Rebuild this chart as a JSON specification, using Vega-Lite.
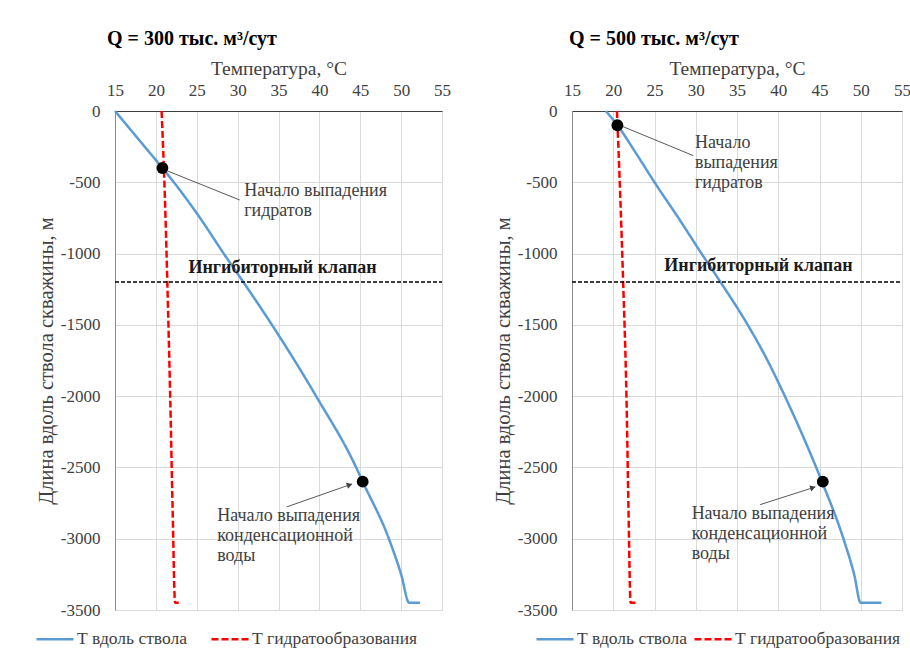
{
  "$schema": "https://vega.github.io/schema/vega-lite/v6.json",
  "padding": {"left": 35, "top": 29, "right": 0, "bottom": 0},
  "background": "white",
  "bounds": "flush",
  "spacing": 130,
  "config": {
    "font": "Liberation Serif",
    "view": {"stroke": null},
    "axis": {
      "gridColor": "#d9d9d9",
      "gridWidth": 1,
      "ticks": false,
      "tickSize": 0,
      "labelFont": "Liberation Serif",
      "labelFontSize": 17,
      "labelColor": "#404040",
      "titleFont": "Liberation Serif",
      "titleFontSize": 19.5,
      "titleFontWeight": "normal",
      "titleColor": "#404040"
    },
    "axisY": {"titleFontSize": 20.5},
    "title": {"font": "Liberation Serif", "fontSize": 20, "fontWeight": "bold", "color": "#000000", "anchor": "start", "frame": "group"}
  },
  "datasets": {
    "curves300": [
      {"T": 15.0, "depth": 0, "series": "Т вдоль ствола"},
      {"T": 17.9, "depth": -200, "series": "Т вдоль ствола"},
      {"T": 20.8, "depth": -400, "series": "Т вдоль ствола"},
      {"T": 22.2, "depth": -500, "series": "Т вдоль ствола"},
      {"T": 25.4, "depth": -750, "series": "Т вдоль ствола"},
      {"T": 28.3, "depth": -1000, "series": "Т вдоль ствола"},
      {"T": 30.7, "depth": -1200, "series": "Т вдоль ствола"},
      {"T": 34.2, "depth": -1500, "series": "Т вдоль ствола"},
      {"T": 39.6, "depth": -2000, "series": "Т вдоль ствола"},
      {"T": 44.5, "depth": -2500, "series": "Т вдоль ствола"},
      {"T": 45.3, "depth": -2600, "series": "Т вдоль ствола"},
      {"T": 48.5, "depth": -3000, "series": "Т вдоль ствола"},
      {"T": 50.0, "depth": -3250, "series": "Т вдоль ствола"},
      {"T": 51.0, "depth": -3450, "series": "Т вдоль ствола"},
      {"T": 52.3, "depth": -3450, "series": "Т вдоль ствола"},
      {"T": 20.7, "depth": 0, "series": "Т гидратообразования"},
      {"T": 21.1, "depth": -600, "series": "Т гидратообразования"},
      {"T": 21.4, "depth": -1200, "series": "Т гидратообразования"},
      {"T": 21.75, "depth": -2000, "series": "Т гидратообразования"},
      {"T": 22.05, "depth": -2800, "series": "Т гидратообразования"},
      {"T": 22.35, "depth": -3450, "series": "Т гидратообразования"},
      {"T": 22.8, "depth": -3450, "series": "Т гидратообразования"}
    ],
    "curves500": [
      {"T": 19.1, "depth": 0, "series": "Т вдоль ствола"},
      {"T": 20.5, "depth": -100, "series": "Т вдоль ствола"},
      {"T": 22.8, "depth": -300, "series": "Т вдоль ствола"},
      {"T": 25.0, "depth": -500, "series": "Т вдоль ствола"},
      {"T": 27.9, "depth": -750, "series": "Т вдоль ствола"},
      {"T": 30.7, "depth": -1000, "series": "Т вдоль ствола"},
      {"T": 33.0, "depth": -1200, "series": "Т вдоль ствола"},
      {"T": 36.3, "depth": -1500, "series": "Т вдоль ствола"},
      {"T": 38.7, "depth": -1750, "series": "Т вдоль ствола"},
      {"T": 40.8, "depth": -2000, "series": "Т вдоль ствола"},
      {"T": 44.6, "depth": -2500, "series": "Т вдоль ствола"},
      {"T": 45.3, "depth": -2600, "series": "Т вдоль ствола"},
      {"T": 47.9, "depth": -3000, "series": "Т вдоль ствола"},
      {"T": 49.2, "depth": -3250, "series": "Т вдоль ствола"},
      {"T": 50.0, "depth": -3450, "series": "Т вдоль ствола"},
      {"T": 52.5, "depth": -3450, "series": "Т вдоль ствола"},
      {"T": 20.45, "depth": 0, "series": "Т гидратообразования"},
      {"T": 20.85, "depth": -600, "series": "Т гидратообразования"},
      {"T": 21.2, "depth": -1200, "series": "Т гидратообразования"},
      {"T": 21.6, "depth": -2000, "series": "Т гидратообразования"},
      {"T": 21.85, "depth": -2800, "series": "Т гидратообразования"},
      {"T": 22.1, "depth": -3450, "series": "Т гидратообразования"},
      {"T": 22.7, "depth": -3450, "series": "Т гидратообразования"}
    ],
    "valve": [
      {"T": 15, "depth": -1200},
      {"T": 55, "depth": -1200}
    ],
    "dots300": [
      {"T": 20.8, "depth": -400},
      {"T": 45.3, "depth": -2600}
    ],
    "dots500": [
      {"T": 20.5, "depth": -100},
      {"T": 45.4, "depth": -2600}
    ],
    "leaders300": [
      {"T": 21.4, "depth": -420, "T2": 30.25, "depth2": -624},
      {"T": 36.0, "depth": -2777, "T2": 44.0, "depth2": -2616}
    ],
    "leaders500": [
      {"T": 20.9, "depth": -103, "T2": 29.7, "depth2": -313},
      {"T": 37.8, "depth": -2761, "T2": 44.5, "depth2": -2637}
    ],
    "arrows300": [
      {"T": 43.7, "depth": -2622, "angle": -19}
    ],
    "arrows500": [
      {"T": 44.2, "depth": -2642, "angle": -18}
    ],
    "notes300": [
      {"T": 30.8, "depth": -596, "label": "Начало выпадения\nгидратов"},
      {"T": 27.5, "depth": -2875, "label": "Начало выпадения\nконденсационной\nводы"}
    ],
    "notes500": [
      {"T": 29.9, "depth": -261, "label": "Начало\nвыпадения\nгидратов"},
      {"T": 29.5, "depth": -2861, "label": "Начало выпадения\nконденсационной\nводы"}
    ],
    "valveLabel300": [
      {"T": 35.5, "depth": -1138, "label": "Ингибиторный  клапан"}
    ],
    "valveLabel500": [
      {"T": 37.6, "depth": -1121, "label": "Ингибиторный  клапан"}
    ]
  },
  "resolve": {"scale": {"color": "independent", "strokeDash": "independent"}, "legend": {"color": "independent", "strokeDash": "independent"}},
  "hconcat": [
    {
      "width": 327,
      "height": 499,
      "title": {"text": "Q = 300 тыс. м³/сут", "dx": -8, "offset": 9},
      "layer": [
        {
          "data": {"name": "curves300"},
          "mark": {"type": "line", "strokeWidth": 2.5, "interpolate": "monotone"},
          "encoding": {
            "x": {"field": "T", "type": "quantitative", "scale": {"domain": [15, 55], "nice": false, "zero": false},
              "axis": {"orient": "top", "title": "Температура, °C", "values": [15, 20, 25, 30, 35, 40, 45, 50, 55], "labelPadding": 12, "titlePadding": 3, "domainColor": "#404040", "labelFlush": false}},
            "y": {"field": "depth", "type": "quantitative", "scale": {"domain": [-3500, 0], "nice": false, "zero": false},
              "axis": {"title": "Длина вдоль ствола скважины, м", "values": [0, -500, -1000, -1500, -2000, -2500, -3000, -3500], "labelPadding": 15, "titlePadding": 4, "domainColor": "#8c8c8c", "labelFlush": false,
                "labelExpr": "datum.value == 0 ? '0' : '-' + format(-datum.value, 'd')"}},
            "color": {"field": "series", "type": "nominal",
              "scale": {"domain": ["Т вдоль ствола", "Т гидратообразования"], "range": ["#5B9BD5", "#FF0000"]},
              "legend": {"orient": "none", "legendX": -80, "legendY": 508, "direction": "horizontal", "title": null, "symbolType": "stroke", "symbolSize": 1369, "symbolStrokeWidth": 2.5, "labelFont": "Liberation Serif", "labelFontSize": 17.5, "labelColor": "#404040", "labelOffset": 2, "columnPadding": 19, "labelLimit": 400}},
            "strokeDash": {"field": "series", "type": "nominal",
              "scale": {"domain": ["Т вдоль ствола", "Т гидратообразования"], "range": [[1, 0], [7, 3]]},
              "legend": {"orient": "none", "legendX": -80, "legendY": 508, "direction": "horizontal", "title": null, "symbolType": "stroke", "symbolSize": 1369, "symbolStrokeWidth": 2.5, "labelFont": "Liberation Serif", "labelFontSize": 17.5, "labelColor": "#404040", "labelOffset": 2, "columnPadding": 19, "labelLimit": 400}}
          }
        },
        {
          "data": {"name": "valve"},
          "mark": {"type": "line", "color": "#000000", "strokeWidth": 1.5, "strokeDash": [4, 2]},
          "encoding": {
            "x": {"field": "T", "type": "quantitative"},
            "y": {"field": "depth", "type": "quantitative"}
          }
        },
        {
          "data": {"name": "leaders300"},
          "mark": {"type": "rule", "color": "#595959", "strokeWidth": 1},
          "encoding": {
            "x": {"field": "T", "type": "quantitative"},
            "y": {"field": "depth", "type": "quantitative"},
            "x2": {"field": "T2"},
            "y2": {"field": "depth2"}
          }
        },
        {
          "data": {"name": "arrows300"},
          "mark": {"type": "point", "shape": "triangle-right", "filled": true, "color": "#404040", "size": 40, "opacity": 1},
          "encoding": {
            "x": {"field": "T", "type": "quantitative"},
            "y": {"field": "depth", "type": "quantitative"},
            "angle": {"field": "angle", "type": "quantitative", "scale": null}
          }
        },
        {
          "data": {"name": "dots300"},
          "mark": {"type": "circle", "color": "#000000", "size": 140, "opacity": 1},
          "encoding": {
            "x": {"field": "T", "type": "quantitative"},
            "y": {"field": "depth", "type": "quantitative"}
          }
        },
        {
          "data": {"name": "notes300"},
          "mark": {"type": "text", "align": "left", "baseline": "alphabetic", "font": "Liberation Serif", "fontSize": 18, "color": "#404040", "lineBreak": "\n", "lineHeight": 20},
          "encoding": {
            "x": {"field": "T", "type": "quantitative"},
            "y": {"field": "depth", "type": "quantitative"},
            "text": {"field": "label"}
          }
        },
        {
          "data": {"name": "valveLabel300"},
          "mark": {"type": "text", "align": "center", "baseline": "alphabetic", "font": "Liberation Serif", "fontSize": 18, "fontWeight": "bold", "color": "#1a1a1a"},
          "encoding": {
            "x": {"field": "T", "type": "quantitative"},
            "y": {"field": "depth", "type": "quantitative"},
            "text": {"field": "label"}
          }
        }
      ]
    },
    {
      "width": 330,
      "height": 499,
      "title": {"text": "Q = 500 тыс. м³/сут", "dx": -3, "offset": 9},
      "layer": [
        {
          "data": {"name": "curves500"},
          "mark": {"type": "line", "strokeWidth": 2.5, "interpolate": "monotone"},
          "encoding": {
            "x": {"field": "T", "type": "quantitative", "scale": {"domain": [15, 55], "nice": false, "zero": false},
              "axis": {"orient": "top", "title": "Температура, °C", "values": [15, 20, 25, 30, 35, 40, 45, 50, 55], "labelPadding": 12, "titlePadding": 3, "domainColor": "#404040", "labelFlush": false}},
            "y": {"field": "depth", "type": "quantitative", "scale": {"domain": [-3500, 0], "nice": false, "zero": false},
              "axis": {"title": "Длина вдоль ствола скважины, м", "values": [0, -500, -1000, -1500, -2000, -2500, -3000, -3500], "labelPadding": 15, "titlePadding": 4, "domainColor": "#8c8c8c", "labelFlush": false,
                "labelExpr": "datum.value == 0 ? '0' : '-' + format(-datum.value, 'd')"}},
            "color": {"field": "series", "type": "nominal",
              "scale": {"domain": ["Т вдоль ствола", "Т гидратообразования"], "range": ["#5B9BD5", "#FF0000"]},
              "legend": {"orient": "none", "legendX": -37, "legendY": 508, "direction": "horizontal", "title": null, "symbolType": "stroke", "symbolSize": 1369, "symbolStrokeWidth": 2.5, "labelFont": "Liberation Serif", "labelFontSize": 17.5, "labelColor": "#404040", "labelOffset": 2, "columnPadding": 2, "labelLimit": 400}},
            "strokeDash": {"field": "series", "type": "nominal",
              "scale": {"domain": ["Т вдоль ствола", "Т гидратообразования"], "range": [[1, 0], [7, 3]]},
              "legend": {"orient": "none", "legendX": -37, "legendY": 508, "direction": "horizontal", "title": null, "symbolType": "stroke", "symbolSize": 1369, "symbolStrokeWidth": 2.5, "labelFont": "Liberation Serif", "labelFontSize": 17.5, "labelColor": "#404040", "labelOffset": 2, "columnPadding": 2, "labelLimit": 400}}
          }
        },
        {
          "data": {"name": "valve"},
          "mark": {"type": "line", "color": "#000000", "strokeWidth": 1.5, "strokeDash": [4, 2]},
          "encoding": {
            "x": {"field": "T", "type": "quantitative"},
            "y": {"field": "depth", "type": "quantitative"}
          }
        },
        {
          "data": {"name": "leaders500"},
          "mark": {"type": "rule", "color": "#595959", "strokeWidth": 1},
          "encoding": {
            "x": {"field": "T", "type": "quantitative"},
            "y": {"field": "depth", "type": "quantitative"},
            "x2": {"field": "T2"},
            "y2": {"field": "depth2"}
          }
        },
        {
          "data": {"name": "arrows500"},
          "mark": {"type": "point", "shape": "triangle-right", "filled": true, "color": "#404040", "size": 40, "opacity": 1},
          "encoding": {
            "x": {"field": "T", "type": "quantitative"},
            "y": {"field": "depth", "type": "quantitative"},
            "angle": {"field": "angle", "type": "quantitative", "scale": null}
          }
        },
        {
          "data": {"name": "dots500"},
          "mark": {"type": "circle", "color": "#000000", "size": 140, "opacity": 1},
          "encoding": {
            "x": {"field": "T", "type": "quantitative"},
            "y": {"field": "depth", "type": "quantitative"}
          }
        },
        {
          "data": {"name": "notes500"},
          "mark": {"type": "text", "align": "left", "baseline": "alphabetic", "font": "Liberation Serif", "fontSize": 18, "color": "#404040", "lineBreak": "\n", "lineHeight": 20},
          "encoding": {
            "x": {"field": "T", "type": "quantitative"},
            "y": {"field": "depth", "type": "quantitative"},
            "text": {"field": "label"}
          }
        },
        {
          "data": {"name": "valveLabel500"},
          "mark": {"type": "text", "align": "center", "baseline": "alphabetic", "font": "Liberation Serif", "fontSize": 18, "fontWeight": "bold", "color": "#1a1a1a"},
          "encoding": {
            "x": {"field": "T", "type": "quantitative"},
            "y": {"field": "depth", "type": "quantitative"},
            "text": {"field": "label"}
          }
        }
      ]
    }
  ]
}
